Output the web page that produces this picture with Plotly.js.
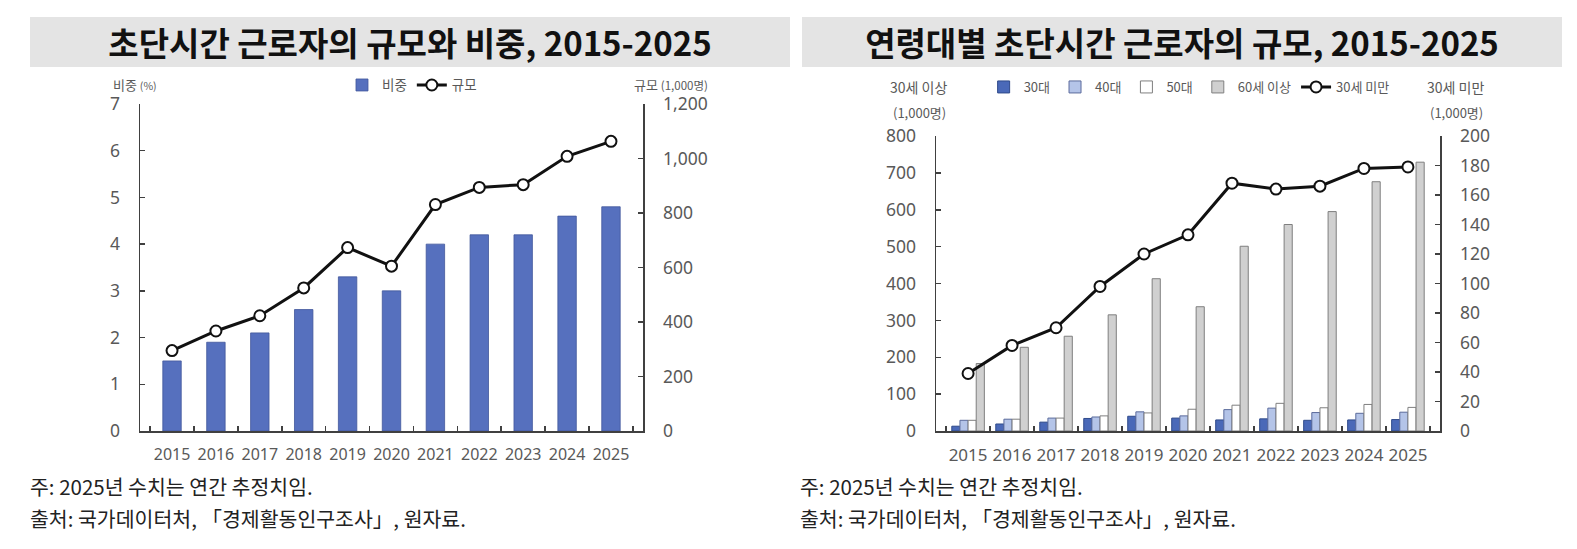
<!DOCTYPE html>
<html>
<head>
<meta charset="utf-8">
<script src="https://cdn.plot.ly/plotly-3.0.1.min.js"></script>
<style>
  body { margin: 0; background: #fff; width: 1577px; height: 549px; position: relative; overflow: hidden;
         font-family: "Noto Sans CJK KR", "Noto Sans", sans-serif; }
  .band { position: absolute; top: 17px; height: 50px; background: #e4e4e4; color: #111;
          font-weight: 700; font-size: 33px; line-height: 50px; text-align: center; }
  .note { position: absolute; font-size: 20.5px; color: #222; line-height: 32px; }
  .chart { position: absolute; top: 70px; height: 400px; }
</style>
</head>
<body>
<div class="band" style="left:30px; width:760px;">초단시간 근로자의 규모와 비중, 2015-2025</div>
<div class="band" style="left:802px; width:760px;">연령대별 초단시간 근로자의 규모, 2015-2025</div>

<div id="leftchart" class="chart" style="left:0px; width:790px;"></div>
<div id="rightchart" class="chart" style="left:795px; width:782px;"></div>

<div class="note" style="left:30px; top:470px;">주: 2025년 수치는 연간 추정치임.<br>출처: 국가데이터처, 「경제활동인구조사」, 원자료.</div>
<div class="note" style="left:800px; top:470px;">주: 2025년 수치는 연간 추정치임.<br>출처: 국가데이터처, 「경제활동인구조사」, 원자료.</div>

<script>
// data
var years = ['2015','2016','2017','2018','2019','2020','2021','2022','2023','2024','2025'];

// left chart: share (%) and size (1,000 persons)
var shareRate = [1.5, 1.9, 2.1, 2.6, 3.3, 3.0, 4.0, 4.2, 4.2, 4.6, 4.8];
var totalWorkers = [295, 367, 423, 525, 673, 605, 831, 894, 904, 1008, 1063];

// right chart: by age group (1,000 persons)
var age30s = [13, 19, 24, 34, 40, 35, 30, 33, 29, 30, 31];
var age40s = [29, 32, 35, 38, 52, 41, 58, 62, 50, 48, 51];
var age50s = [29, 32, 35, 41, 49, 59, 70, 75, 63, 72, 64];
var age60plus = [183, 227, 257, 315, 413, 337, 501, 560, 595, 676, 729];
var under30 = [39, 58, 70, 98, 120, 133, 168, 164, 166, 178, 179];

var tickGray = '#595959';
var numFont = 'Noto Sans, Noto Sans CJK KR, sans-serif';
var krFont = 'Noto Sans CJK KR, sans-serif';
var axisColor = '#404040';

var lineStyle = {color: '#111', width: 3};
var markerStyle = {symbol: 'circle', size: 11, color: '#fff', line: {color: '#111', width: 2}};

function xaxisCommon(size) {
  return {
    type: 'category', tickangle: 0, automargin: false,
    tickfont: {family: numFont, size: size, color: tickGray},
    showline: true, linecolor: axisColor, linewidth: 1.5,
    ticks: 'inside', tickson: 'boundaries', ticklen: 5, tickcolor: axisColor, tickwidth: 1.5,
    ticklabelstandoff: 8,
    showgrid: false, zeroline: false, fixedrange: true
  };
}
function yaxisCommon(range, dtick, side) {
  return {
    range: range, dtick: dtick, side: side, automargin: false,
    tickfont: {family: numFont, size: 17.5, color: tickGray},
    showline: true, linecolor: axisColor, linewidth: 1.5,
    ticks: 'inside', ticklen: 5, tickcolor: axisColor, tickwidth: 1.5,
    ticklabelstandoff: 15,
    showgrid: false, zeroline: false, fixedrange: true
  };
}

// ---------------- left chart ----------------
var leftdata = [
  {
    x: years, y: shareRate, name: '비중', type: 'bar',
    marker: {color: '#5670be', line: {color: '#41579a', width: 0.8}},
    yaxis: 'y'
  },
  {
    x: years, y: totalWorkers, name: '규모', type: 'scatter', mode: 'lines+markers',
    line: lineStyle, marker: markerStyle,
    yaxis: 'y2'
  }
];

var leftY2 = yaxisCommon([0, 1200], 200, 'right');
leftY2.overlaying = 'y';
leftY2.tickformat = ',';

var leftlayout = {
  width: 790, height: 400,
  margin: {l: 140, r: 147, t: 34, b: 39},
  paper_bgcolor: '#fff', plot_bgcolor: 'rgba(0,0,0,0)',
  bargap: 0.58,
  xaxis: xaxisCommon(16),
  yaxis: yaxisCommon([0, 7], 1, 'left'),
  yaxis2: leftY2,
  showlegend: true,
  legend: {
    orientation: 'h', xref: 'container', yref: 'container',
    x: 0.5215, xanchor: 'center', y: 0.962, yanchor: 'middle',
    font: {family: krFont, size: 13.5, color: tickGray},
    itemwidth: 30, bgcolor: 'rgba(0,0,0,0)'
  },
  annotations: [
    {text: '비중 <span style="font-size:10.5px">(%)</span>', xref: 'paper', yref: 'paper',
     x: -0.058, xanchor: 'left', y: 1.061, yanchor: 'middle', showarrow: false,
     font: {family: krFont, size: 13, color: tickGray}},
    {text: '규모 <span style="font-size:11.5px">(1,000명)</span>', xref: 'paper', yref: 'paper',
     x: 1.133, xanchor: 'right', y: 1.061, yanchor: 'middle', showarrow: false,
     font: {family: krFont, size: 13, color: tickGray}}
  ]
};

Plotly.newPlot('leftchart', leftdata, leftlayout, {staticPlot: true, displayModeBar: false});

// ---------------- right chart ----------------
var rightdata = [
  {x: years, y: age30s, name: '30대', type: 'bar',
   marker: {color: '#4a69b8', line: {color: '#2f4a8a', width: 1}}},
  {x: years, y: age40s, name: '40대', type: 'bar',
   marker: {color: '#b4c4e8', line: {color: '#5b6b9c', width: 1}}},
  {x: years, y: age50s, name: '50대', type: 'bar',
   marker: {color: '#ffffff', line: {color: '#7f7f7f', width: 1}}},
  {x: years, y: age60plus, name: '60세 이상', type: 'bar',
   marker: {color: '#d0d0d0', line: {color: '#7f7f7f', width: 1}}},
  {x: years, y: under30, name: '30세 미만', type: 'scatter', mode: 'lines+markers',
   line: lineStyle, marker: markerStyle, yaxis: 'y2'}
];

var rightY2 = yaxisCommon([0, 200], 20, 'right');
rightY2.overlaying = 'y';

var rightlayout = {
  width: 782, height: 400,
  margin: {l: 141, r: 137, t: 66, b: 39},
  paper_bgcolor: '#fff', plot_bgcolor: 'rgba(0,0,0,0)',
  barmode: 'group', bargap: 0.26, bargroupgap: 0,
  xaxis: xaxisCommon(17),
  yaxis: yaxisCommon([0, 800], 100, 'left'),
  yaxis2: rightY2,
  showlegend: true,
  legend: {
    orientation: 'h', xref: 'container', yref: 'container',
    x: 0.504, xanchor: 'center', y: 0.9575, yanchor: 'middle',
    font: {family: krFont, size: 13, color: tickGray},
    itemwidth: 30, bgcolor: 'rgba(0,0,0,0)'
  },
  annotations: [
    {text: '30세 이상', xref: 'paper', yref: 'paper', x: -0.034, xanchor: 'center',
     y: 1.166, yanchor: 'middle', showarrow: false, font: {family: krFont, size: 14, color: tickGray}},
    {text: '(1,000명)', xref: 'paper', yref: 'paper', x: -0.032, xanchor: 'center',
     y: 1.078, yanchor: 'middle', showarrow: false, font: {family: krFont, size: 13, color: tickGray}},
    {text: '30세 미만', xref: 'paper', yref: 'paper', x: 1.030, xanchor: 'center',
     y: 1.166, yanchor: 'middle', showarrow: false, font: {family: krFont, size: 14, color: tickGray}},
    {text: '(1,000명)', xref: 'paper', yref: 'paper', x: 1.032, xanchor: 'center',
     y: 1.078, yanchor: 'middle', showarrow: false, font: {family: krFont, size: 13, color: tickGray}}
  ]
};

Plotly.newPlot('rightchart', rightdata, rightlayout, {staticPlot: true, displayModeBar: false});
</script>
</body>
</html>
